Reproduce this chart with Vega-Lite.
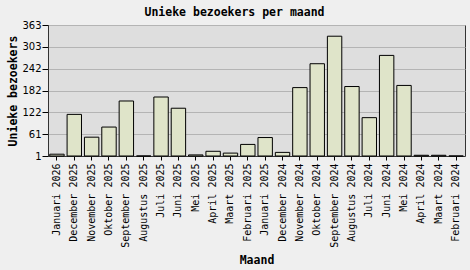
{
  "$schema": "https://vega.github.io/schema/vega-lite/v6.json",
  "autosize": "none",
  "width": 417,
  "height": 131,
  "padding": {"left": 48, "top": 25, "right": 5, "bottom": 114},
  "background": "#efefef",
  "title": {
    "text": "Unieke bezoekers per maand",
    "font": "DejaVu Sans Mono",
    "fontSize": 11.5,
    "fontWeight": "bold",
    "color": "#000000",
    "anchor": "middle",
    "dx": -22,
    "offset": 2
  },
  "config": {
    "view": {"fill": "#dedede", "stroke": "#333333", "strokeWidth": 1}
  },
  "data": {
    "values": [
      {"maand": "Januari 2026", "bezoekers": 6},
      {"maand": "December 2025", "bezoekers": 116},
      {"maand": "November 2025", "bezoekers": 53},
      {"maand": "Oktober 2025", "bezoekers": 81},
      {"maand": "September 2025", "bezoekers": 153},
      {"maand": "Augustus 2025", "bezoekers": 0},
      {"maand": "Juli 2025", "bezoekers": 164},
      {"maand": "Juni 2025", "bezoekers": 133},
      {"maand": "Mei 2025", "bezoekers": 4},
      {"maand": "April 2025", "bezoekers": 14},
      {"maand": "Maart 2025", "bezoekers": 9},
      {"maand": "Februari 2025", "bezoekers": 33},
      {"maand": "Januari 2025", "bezoekers": 52},
      {"maand": "December 2024", "bezoekers": 11},
      {"maand": "November 2024", "bezoekers": 190},
      {"maand": "Oktober 2024", "bezoekers": 256},
      {"maand": "September 2024", "bezoekers": 332},
      {"maand": "Augustus 2024", "bezoekers": 193},
      {"maand": "Juli 2024", "bezoekers": 107},
      {"maand": "Juni 2024", "bezoekers": 279},
      {"maand": "Mei 2024", "bezoekers": 196},
      {"maand": "April 2024", "bezoekers": 3},
      {"maand": "Maart 2024", "bezoekers": 3},
      {"maand": "Februari 2024", "bezoekers": 0}
    ]
  },
  "mark": {"type": "bar", "fill": "#dfe4c9", "stroke": "#000000", "strokeWidth": 1},
  "encoding": {
    "x": {
      "field": "maand",
      "type": "nominal",
      "sort": null,
      "scale": {"paddingInner": 0.17, "paddingOuter": 0.1},
      "axis": {
        "title": "Maand",
        "titleFont": "DejaVu Sans Mono",
        "titleFontSize": 11.5,
        "titleFontWeight": "bold",
        "titleColor": "#000000",
        "titlePadding": 7,
        "labelAngle": -90,
        "labelAlign": "right",
        "labelBaseline": "middle",
        "labelFont": "DejaVu Sans Mono",
        "labelFontSize": 10,
        "labelColor": "#000000",
        "labelPadding": 3,
        "labelLimit": 300,
        "tickSize": 4,
        "tickColor": "#000000",
        "domainColor": "#333333",
        "grid": false
      }
    },
    "y": {
      "field": "bezoekers",
      "type": "quantitative",
      "scale": {"domain": [1, 363], "nice": false, "zero": false, "clamp": true},
      "axis": {
        "title": "Unieke bezoekers",
        "titleFont": "DejaVu Sans Mono",
        "titleFontSize": 11.5,
        "titleFontWeight": "bold",
        "titleColor": "#000000",
        "titlePadding": 3,
        "values": [1, 61.33, 121.67, 182, 242.33, 302.67, 363],
        "format": ".0f",
        "labelFont": "DejaVu Sans",
        "labelFontSize": 10,
        "labelColor": "#000000",
        "labelPadding": 1,
        "tickSize": 6,
        "tickColor": "#000000",
        "domainColor": "#333333",
        "grid": true,
        "gridColor": "#b4b4b4",
        "gridWidth": 1
      }
    }
  }
}
